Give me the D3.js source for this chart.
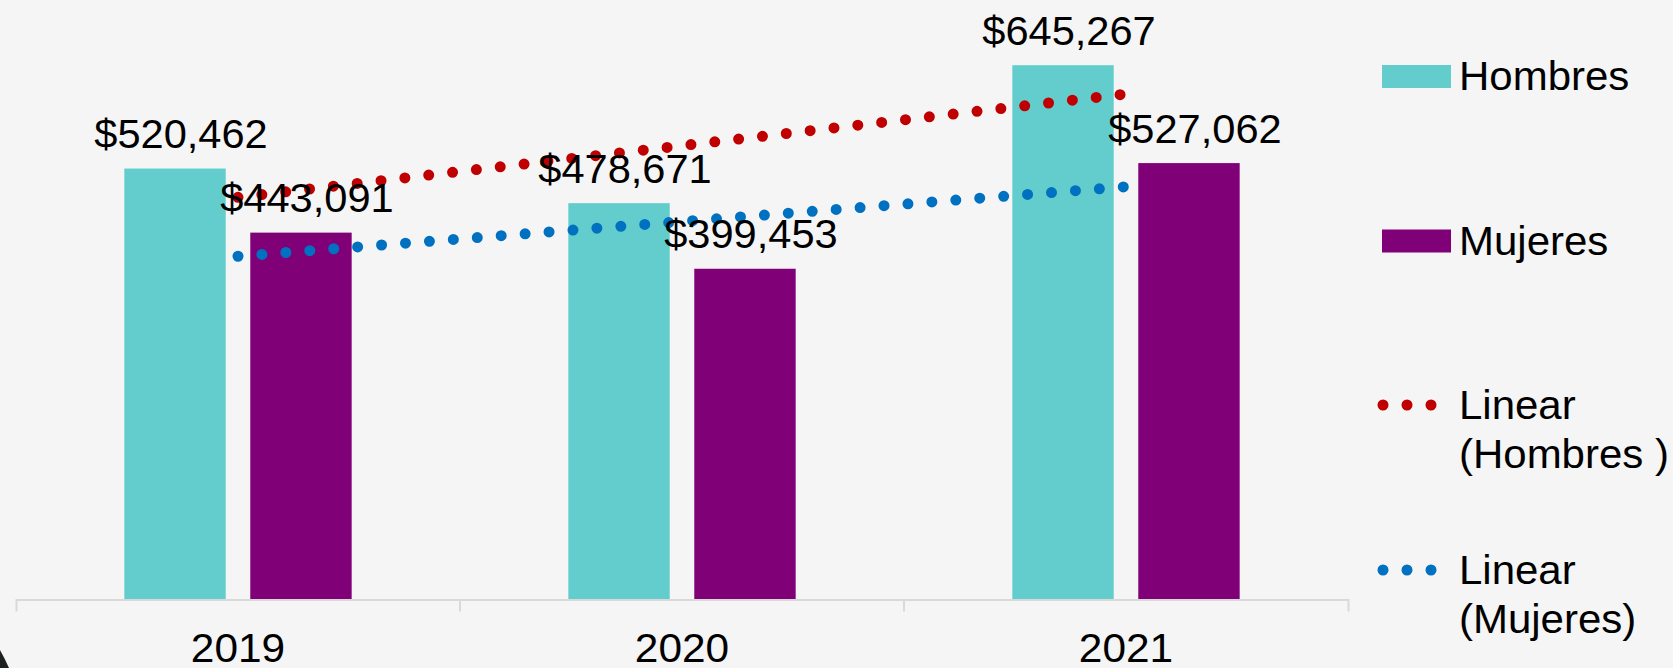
<!DOCTYPE html>
<html>
<head>
<meta charset="utf-8">
<script src="https://cdn.jsdelivr.net/npm/d3@7"></script>
<style>
  html, body { margin: 0; padding: 0; background: #f5f5f5; }
  svg { display: block; font-family: "Liberation Sans", Arial, sans-serif; }
</style>
</head>
<body>
<svg id="chart" width="1673" height="668"></svg>
<script>
const years = ["2019", "2020", "2021"];
const series = ["Hombres", "Mujeres"];
const hombres = [520462, 478671, 645267];
const mujeres = [443091, 399453, 527062];
const seriesColors = ["#62cdcc", "#800078"];
const trendColors = ["#c00000", "#0070c0"];
const legendLabels = [["Hombres"], ["Mujeres"], ["Linear", "(Hombres )"], ["Linear", "(Mujeres)"]];

const svg = d3.select("#chart");
const W = 1673, H = 668;
svg.append("rect").attr("width", W).attr("height", H).attr("fill", "#f5f5f5");

const x0 = d3.scaleBand().domain(years).range([16, 1348]).padding(0);
const x1 = d3.scaleBand().domain(series).range([0, x0.bandwidth()])
  .paddingInner(0.195).paddingOuter(0.86);
const y = d3.scaleLinear().domain([0, 700000]).range([599.5, 19.9]);

const values = [hombres, mujeres];
const fmt = d => "$" + d3.format(",")(d);

// bars
series.forEach((s, si) => {
  const g = svg.append("g");
  g.selectAll("rect").data(values[si]).join("rect")
    .attr("x", (d, i) => x0(years[i]) + x1(s))
    .attr("y", d => y(d))
    .attr("width", x1.bandwidth())
    .attr("height", d => y(0) - y(d))
    .attr("fill", seriesColors[si]);
});

// linear trendlines (least squares over category index)
function linFit(vals) {
  const xs = vals.map((d, i) => i + 1);
  const mx = d3.mean(xs), my = d3.mean(vals);
  const slope = d3.sum(xs, (xv, i) => (xv - mx) * (vals[i] - my)) / d3.sum(xs, xv => (xv - mx) ** 2);
  return xv => my + slope * (xv - mx);
}
const cx = i => x0(years[i]) + x0.bandwidth() / 2;
values.forEach((vals, si) => {
  const f = linFit(vals);
  const pts = [[cx(0), y(f(1))], [cx(2), y(f(3))]];
  svg.append("path")
    .attr("d", d3.line()(pts))
    .attr("fill", "none")
    .attr("stroke", trendColors[si])
    .attr("stroke-width", 11)
    .attr("stroke-linecap", "round")
    .attr("stroke-dasharray", "0 24");
});

// data labels
series.forEach((s, si) => {
  svg.append("g").selectAll("text").data(values[si]).join("text")
    .attr("x", (d, i) => x0(years[i]) + x1(s) + x1.bandwidth() / 2 + 6)
    .attr("y", d => y(d) - 20.5)
    .attr("text-anchor", "middle")
    .attr("font-size", 40)
    .attr("fill", "#000")
    .attr("transform", (d, i) => {
      const tx = x0(years[i]) + x1(s) + x1.bandwidth() / 2 + 6;
      return `translate(${tx},0) scale(1.04,1) translate(${-tx},0)`;
    })
    .text(fmt);
});

// x axis
const axis = svg.append("g")
  .attr("transform", `translate(0,${y(0)})`)
  .call(d3.axisBottom(x0).tickSizeInner(0).tickSizeOuter(12).tickPadding(0));
axis.select(".domain").attr("stroke", "#d9d9d9").attr("stroke-width", 2);
axis.selectAll(".tick line").remove();
axis.selectAll(".tick text")
  .attr("font-size", 40)
  .attr("fill", "#000")
  .attr("dy", null)
  .attr("y", 63)
  .attr("font-family", "Liberation Sans, Arial, sans-serif")
  .attr("transform", "scale(1.06,1)");
axis.selectAll(".inner").data(years.slice(1)).join("line")
  .attr("x1", d => x0(d)).attr("x2", d => x0(d))
  .attr("y1", 0).attr("y2", 12)
  .attr("stroke", "#d9d9d9").attr("stroke-width", 2);

// legend
const legend = svg.append("g");
const legendY = [76.5, 241, 405, 570];
legendLabels.forEach((lines, li) => {
  const ly = legendY[li];
  if (li < 2) {
    legend.append("rect")
      .attr("x", 1382).attr("y", ly - 11.5)
      .attr("width", 69).attr("height", 23)
      .attr("fill", seriesColors[li]);
  } else {
    legend.append("path")
      .attr("d", d3.line()([[1383, ly], [1433, ly]]))
      .attr("stroke", trendColors[li - 2])
      .attr("stroke-width", 11)
      .attr("stroke-linecap", "round")
      .attr("stroke-dasharray", "0 24");
  }
  const t = legend.append("text")
    .attr("font-size", 40)
    .attr("fill", "#000")
    .attr("transform", `translate(1459,0) scale(1.05,1) translate(-1459,0)`);
  lines.forEach((ln, k) => {
    t.append("tspan")
      .attr("x", 1459)
      .attr("y", (lines.length === 1 ? ly + 14 : ly + 14.5) + k * 49)
      .text(ln);
  });
});

// dark corner fragment at bottom left
svg.append("path")
  .attr("d", "M0,650 Q5,659 9,668 L0,668 Z")
  .attr("fill", "#1c2020");
</script>
</body>
</html>
